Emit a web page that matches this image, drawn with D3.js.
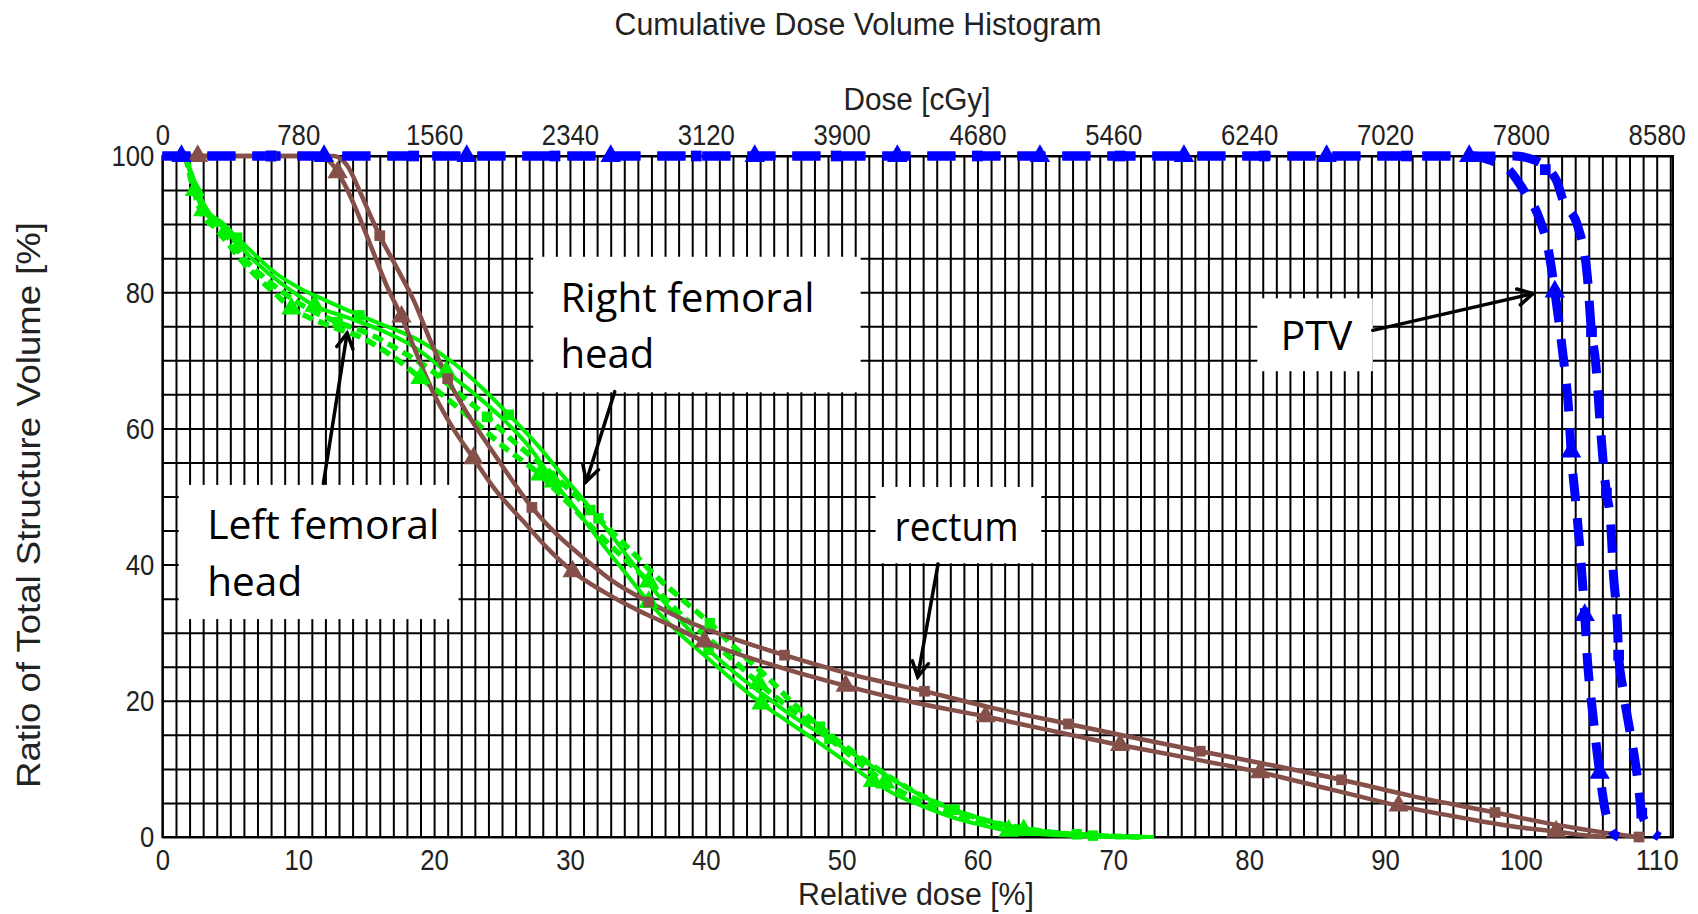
<!DOCTYPE html>
<html>
<head>
<meta charset="utf-8">
<script src="https://cdn.jsdelivr.net/npm/d3@7/dist/d3.min.js"></script>
<style>
body { margin: 0; background: #fff; }
svg text { font-family: "Liberation Sans", Arial, sans-serif; fill: #222; }
.note { font-family: "Open Sans", "Noto Sans", sans-serif; fill: #000; }
</style>
</head>
<body>
<svg id="chart" width="1698" height="914"></svg>
<script>
// axis ticks
var doseTicks = [0, 10, 20, 30, 40, 50, 60, 70, 80, 90, 100, 110];
var cgyLabels = ["0", "780", "1560", "2340", "3120", "3900", "4680", "5460", "6240", "7020", "7800", "8580"];
var volTicks = [0, 20, 40, 60, 80, 100];

// PTV, two plans (triangle / square markers)
var ptvA = [[0,100],[96.5,100],[97.7,99.4],[99.2,97.8],[100.2,95],[101.4,90.6],[102,86.5],[102.5,80.1],[103.1,70.8],[103.5,63.2],[103.7,56.6],[104.1,48],[104.4,41],[104.7,32.6],[104.9,26],[105.3,18],[105.8,9.4],[106.2,4],[106.8,0.6],[107.2,0]];
var ptvB = [[0,100],[99.5,100],[101,99.4],[102.6,96.5],[103.1,93.5],[104.2,89.6],[104.9,82.2],[105.2,74.2],[105.5,69.8],[105.8,61.7],[106.1,54.2],[106.3,50.5],[106.6,46.5],[106.8,39],[107.1,31.4],[107.2,26.7],[107.5,21.9],[107.9,17],[108.3,12.5],[108.6,8.5],[108.9,3.5],[109.4,1.5],[110.2,0]];
var ptvAMarks = [[1.4,100],[11.9,100],[22.4,100],[33,100],[43.6,100],[54.1,100],[64.6,100],[75.2,100],[85.7,100],[96.2,100],[102.5,80.1],[103.7,56.6],[104.7,32.6],[105.8,9.4]];
var ptvBMarks = [[8,100],[18.5,100],[28.9,100],[39.3,100],[49.6,100],[60,100],[70.5,100],[81.1,100],[91.6,100],[101.8,98],[105.2,74.2],[106.3,50.5],[107.2,26.7],[108.9,3.5]];

// rectum
var rectA = [[0,100],[11.5,100],[12.5,98.8],[13.5,95.5],[14.5,91],[15.5,86],[16.5,81],[17.6,76.4],[18.7,71],[20,65],[21.4,60],[22.9,55.6],[24.5,51],[26.5,46.5],[28.3,42.5],[30.2,39],[32.5,36],[35,33.3],[37.5,31],[39.9,28.7],[45,25.2],[50.3,22.2],[55,19.9],[60.6,17.7],[65,15.8],[70.5,13.5],[75,11.8],[80.8,9.5],[86,7],[91,4.6],[96,2.7],[100,1.4],[102.6,0.8],[104.5,0.3],[106.3,0]];
var rectB = [[0,100],[12.6,100],[13.6,98.6],[14.6,94.5],[15.3,91.3],[16,88.3],[17.2,83.8],[18.5,78.8],[19.7,73],[21,67.3],[22.5,62],[24,57.5],[25.6,52.8],[27.2,48.4],[29,44.5],[31,41],[33.2,37.5],[35.8,34.5],[38.5,31.8],[41.5,29.5],[45.8,26.7],[50.5,24],[56.1,21.4],[61,19],[66.7,16.6],[71,14.8],[76.4,12.6],[81,10.8],[86.8,8.4],[92,6],[98.1,3.6],[102,2],[105,1],[107,0.4],[108.7,0]];
var rectAMarks = [[2.6,100],[12.9,97.6],[17.6,76.4],[22.9,55.6],[30.2,39],[39.9,28.7],[50.3,22.2],[60.6,17.7],[70.5,13.5],[80.8,9.5],[91,4.6],[102.6,0.8]];
var rectBMarks = [[8,100],[16,88.3],[21,67.3],[27.2,48.4],[35.8,34.5],[45.8,26.7],[56.1,21.4],[66.7,16.6],[76.4,12.6],[86.8,8.4],[98.1,3.6],[108.7,0]];

// femoral heads: solid and dashed, each with both plans
var femSolidA = [[1.7,100],[2.4,95],[3,92],[4.2,90],[5.3,87.7],[6.4,85.3],[7.8,82.8],[9.5,80.2],[11.2,78],[13.6,76.3],[16,74.5],[18.5,72],[20.9,68.3],[23,65],[25,61.5],[27,57.3],[28.8,52.2],[30.5,48],[32,44],[34,39],[35.8,34.5],[38,30],[40,26.5],[42,23],[44.1,19.6],[46,17],[48,14.3],[50,11.5],[52.3,8.2],[54,6.2],[56,4.5],[58,3],[60,1.9],[62.3,0.9],[64,0.5],[66,0.25],[68,0.1],[70,0.03],[72.5,0]];
var femSolidB = [[1.7,100],[2.6,95],[3.2,92.2],[4.4,90.2],[5.5,88],[6.7,85.7],[8.2,83],[10,80.7],[12,78.8],[14.5,76.6],[16.5,75],[19,72.8],[21.5,69.5],[23.5,66],[25.5,62],[27.5,57.8],[29.5,53],[31.2,49],[32.8,45],[34.5,40.5],[36.5,35.5],[38.5,31],[40.2,27.5],[42.2,24],[44.5,20.5],[46.5,17.6],[49.1,14.4],[51,12],[53,9.4],[55,7],[57,5],[59,3.5],[61,2.3],[63,1.4],[65,0.8],[67,0.4],[69,0.15],[71,0.05],[73,0]];
var femDashA = [[1.7,100],[2.3,95],[2.9,91.5],[3.9,89.4],[4.9,87],[5.8,84.7],[7.1,82],[8.3,79.8],[9.5,77.6],[10.8,76.3],[12.4,75],[14.8,73.2],[17,70.5],[19,67.4],[21,64.3],[23,61],[25,57.5],[27.8,53.2],[30,48.8],[32,44.7],[34,40.9],[35.8,37.5],[38,33],[40,29.5],[42,26],[43.9,22.6],[46,19.2],[48,16.2],[50,13],[52,9.8],[53.2,8],[55,6],[57,4.3],[59,3],[61,2],[63,1.2],[65,0.7],[67,0.35],[69,0.15],[71,0.05],[72,0]];
var femDashB = [[1.7,100],[2.5,95],[3.1,92],[4.1,89.8],[5.1,87.4],[6,85],[7.4,82.3],[9,79.8],[10.8,77.5],[12.9,75.6],[15.3,73.8],[17.6,71.3],[19.8,68.5],[21.9,65],[23.9,61.7],[25.9,58],[28.3,54],[30.5,50],[32.5,46],[34.5,42],[36.5,38],[38.5,34.5],[40.3,31.4],[42.3,27.5],[44.5,23.5],[46.5,19.5],[48.4,16.2],[50.5,13],[52.5,10.2],[54.5,7.6],[56.5,5.5],[58.3,4],[60,2.8],[62,1.8],[64,1.1],[66,0.6],[68,0.3],[70,0.1],[72,0]];
var femSolidAMarks = [[3,92],[11.2,78],[20.9,68.3],[28.8,52.2],[35.8,34.5],[44.1,19.6],[52.3,8.2],[62.3,0.9]];
var femDashAMarks = [[2.4,95],[9.5,77.6],[19,67.4],[27.8,53.2],[35.8,37.5],[43.9,22.6],[53.2,8],[63.4,1]];
var femSolidBMarks = [[5.5,88],[14.5,76.6],[25.5,62],[32.1,46.8],[40.2,27.5],[49.1,14.4],[58.3,4],[68.5,0.2]];
var femDashBMarks = [[4.6,88.6],[12.9,75.6],[23.9,61.7],[31.5,48],[40.3,31.4],[48.4,16.2],[58.3,4],[67.3,0.4]];

// annotation texts
var noteTexts = [["Right femoral", "head"], ["Left femoral", "head"], ["rectum"], ["PTV"]];

var svg = d3.select("#chart");
var x = d3.scaleLinear().domain([0, 111.2]).range([162.4, 1673]);
var y = d3.scaleLinear().domain([0, 100]).range([837, 156]);
var plotH = y(0) - y(100);

// grid, every 1 % dose and every 5 % volume
svg.append("g")
    .attr("transform", "translate(0," + y(0) + ")")
    .call(d3.axisBottom(x).tickValues(d3.range(0, 112)).tickSize(-plotH).tickFormat(""))
    .call(function(g) { g.select(".domain").remove(); })
    .selectAll("line").attr("stroke", "#000").attr("stroke-width", 2);

svg.append("g")
    .attr("transform", "translate(" + x(0) + ",0)")
    .call(d3.axisLeft(y).tickValues(d3.range(0, 101, 5)).tickSize(-(x(111.2) - x(0))).tickFormat(""))
    .call(function(g) { g.select(".domain").remove(); })
    .selectAll("line").attr("stroke", "#000").attr("stroke-width", 2);

svg.append("rect")
    .attr("x", x(0)).attr("y", y(100))
    .attr("width", x(111.2) - x(0)).attr("height", plotH)
    .attr("fill", "none").attr("stroke", "#000").attr("stroke-width", 2);

// tick labels
var bottomAx = svg.append("g")
    .attr("transform", "translate(0," + y(0) + ")")
    .call(d3.axisBottom(x).tickValues(doseTicks).tickSize(0).tickPadding(12));
bottomAx.select(".domain").remove();

var topAx = svg.append("g")
    .attr("transform", "translate(0," + y(100) + ")")
    .call(d3.axisTop(x).tickValues(doseTicks).tickSize(0).tickPadding(11)
        .tickFormat(function(d, i) { return cgyLabels[i]; }));
topAx.select(".domain").remove();

var leftAx = svg.append("g")
    .attr("transform", "translate(" + x(0) + ",0)")
    .call(d3.axisLeft(y).tickValues(volTicks).tickSize(0).tickPadding(8));
leftAx.select(".domain").remove();
leftAx.selectAll("text").attr("dy", "0.34em");

svg.selectAll(".tick text")
    .attr("fill", "#222")
    .style("font-size", "29px")
    .attr("textLength", function() { return this.textContent.length * 14.3; })
    .attr("lengthAdjust", "spacingAndGlyphs");

// white annotation boxes
var boxes = [[27.3, 85.2, 51.4, 65.3], [1.2, 51.7, 21.8, 32.0], [52.5, 51.4, 64.7, 40.2], [80.6, 79.1, 89.1, 68.4]];
svg.selectAll(".nbox").data(boxes).enter().append("rect")
    .attr("class", "nbox")
    .attr("x", function(d) { return x(d[0]); })
    .attr("y", function(d) { return y(d[1]); })
    .attr("width", function(d) { return x(d[2]) - x(d[0]); })
    .attr("height", function(d) { return y(d[3]) - y(d[1]); })
    .attr("fill", "#fff");

// curves
var line = d3.line()
    .x(function(d) { return x(d[0]); })
    .y(function(d) { return y(d[1]); })
    .curve(d3.curveMonotoneX);

var green = "#00f000", brown = "#85504a", blue = "#0000ff";

var curves = [
    {data: femDashA, color: green, width: 5.5, dash: "11,6"},
    {data: femDashB, color: green, width: 5.5, dash: "11,6"},
    {data: femSolidA, color: green, width: 4, dash: null},
    {data: femSolidB, color: green, width: 4, dash: null},
    {data: rectA, color: brown, width: 4.5, dash: null},
    {data: rectB, color: brown, width: 4.5, dash: null},
    {data: ptvA, color: blue, width: 9, dash: "28,17"},
    {data: ptvB, color: blue, width: 9, dash: "28,17"}
];

curves.forEach(function(c) {
    svg.append("path")
        .datum(c.data)
        .attr("d", line)
        .attr("fill", "none")
        .attr("stroke", c.color)
        .attr("stroke-width", c.width)
        .attr("stroke-dasharray", c.dash);
});

// markers
var marks = [
    {data: femSolidAMarks, color: green, sym: d3.symbolTriangle, size: 180},
    {data: femDashAMarks, color: green, sym: d3.symbolTriangle, size: 180},
    {data: femSolidBMarks, color: green, sym: d3.symbolSquare, size: 110},
    {data: femDashBMarks, color: green, sym: d3.symbolSquare, size: 110},
    {data: rectAMarks, color: brown, sym: d3.symbolTriangle, size: 180},
    {data: rectBMarks, color: brown, sym: d3.symbolSquare, size: 115},
    {data: ptvAMarks, color: blue, sym: d3.symbolTriangle, size: 180},
    {data: ptvBMarks, color: blue, sym: d3.symbolSquare, size: 115}
];

marks.forEach(function(m) {
    svg.append("g").selectAll("path")
        .data(m.data)
        .enter().append("path")
        .attr("d", d3.symbol().type(m.sym).size(m.size))
        .attr("transform", function(d) { return "translate(" + x(d[0]) + "," + y(d[1]) + ")"; })
        .attr("fill", m.color);
});

// annotation texts
var notePos = [[29.3, 77.1, 68.9], [3.3, 43.8, 35.4], [53.9, 43.4], [82.3, 71.5]];
var noteLen = [[254, 94], [232, 95], [124], [72]];
noteTexts.forEach(function(lines, i) {
    lines.forEach(function(t, j) {
        svg.append("text")
            .attr("class", "note")
            .attr("x", x(notePos[i][0]))
            .attr("y", y(notePos[i][j + 1]))
            .attr("textLength", noteLen[i][j])
            .attr("lengthAdjust", "spacingAndGlyphs")
            .style("font-size", "40px")
            .text(t);
    });
});

// arrows
var arrows = [[[11.85, 51.9], [13.6, 74.0]], [[33.3, 65.4], [31.2, 52.2]], [[57.1, 40.1], [55.6, 23.5]], [[89.1, 74.4], [100.9, 79.8]]];
arrows.forEach(function(a) {
    var x1 = x(a[0][0]), y1 = y(a[0][1]), x2 = x(a[1][0]), y2 = y(a[1][1]);
    var ang = Math.atan2(y2 - y1, x2 - x1);
    var hl = 17, spread = 0.5;
    var g = svg.append("g").attr("stroke", "#000").attr("stroke-width", 3.5).attr("fill", "none")
        .attr("stroke-linecap", "round");
    g.append("line").attr("x1", x1).attr("y1", y1).attr("x2", x2).attr("y2", y2);
    g.append("polyline").attr("points", [
        [x2 - hl * Math.cos(ang - spread), y2 - hl * Math.sin(ang - spread)],
        [x2, y2],
        [x2 - hl * Math.cos(ang + spread), y2 - hl * Math.sin(ang + spread)]
    ].join(" ")).attr("stroke-linejoin", "miter");
});

// titles
svg.append("text")
    .attr("x", 858).attr("y", 35)
    .attr("text-anchor", "middle")
    .attr("textLength", 487).attr("lengthAdjust", "spacingAndGlyphs")
    .style("font-size", "31px")
    .text("Cumulative Dose Volume Histogram");

svg.append("text")
    .attr("x", 917).attr("y", 110)
    .attr("text-anchor", "middle")
    .attr("textLength", 147).attr("lengthAdjust", "spacingAndGlyphs")
    .style("font-size", "31px")
    .text("Dose [cGy]");

svg.append("text")
    .attr("x", 916).attr("y", 905)
    .attr("text-anchor", "middle")
    .attr("textLength", 236).attr("lengthAdjust", "spacingAndGlyphs")
    .style("font-size", "31px")
    .text("Relative dose [%]");

svg.append("text")
    .attr("transform", "translate(40,505) rotate(-90)")
    .attr("text-anchor", "middle")
    .attr("textLength", 566).attr("lengthAdjust", "spacingAndGlyphs")
    .style("font-size", "33px")
    .text("Ratio of Total Structure Volume [%]");
</script>
</body>
</html>
